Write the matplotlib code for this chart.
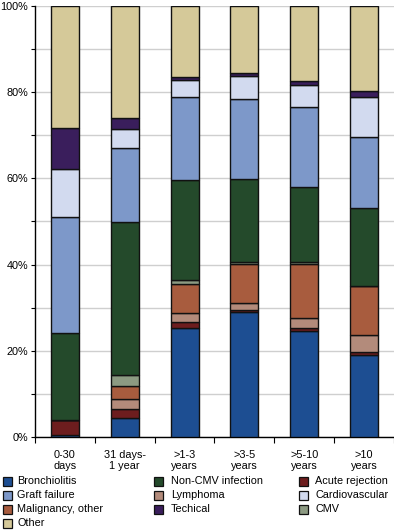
import matplotlib
matplotlib.use("Agg")
import matplotlib.pyplot as plt
import numpy as np
from matplotlib.patches import Rectangle

plt.rcParams['font.family'] = ['Liberation Sans', 'DejaVu Sans']

categories = ["0-30\ndays", "31 days-\n1 year", ">1-3\nyears", ">3-5\nyears", ">5-10\nyears", ">10\nyears"]

labels = ["Bronchiolitis", "Acute rejection", "Lymphoma", "Malignancy, other", "CMV",
          "Non-CMV infection", "Graft failure", "Cardiovascular", "Techical", "Other"]

bronchiolitis = [0.5, 4.5, 25.3, 29.0, 24.6, 19.0]
acute_rejection = [3.4, 2.0, 1.4, 0.5, 0.7, 0.7]
lymphoma = [0.0, 2.4, 2.0, 1.5, 2.4, 3.9]
malignancy_other = [0.0, 3.0, 6.8, 9.2, 12.5, 11.5]
cmv = [0.0, 2.5, 0.9, 0.4, 0.3, 0.0]
non_cmv_infection = [20.2, 35.4, 23.2, 19.3, 17.6, 18.1]
graft_failure = [26.9, 17.3, 19.3, 18.5, 18.4, 16.5]
cardiovascular = [11.1, 4.4, 3.9, 5.3, 5.2, 9.2]
technical = [9.6, 2.6, 0.8, 0.7, 0.9, 1.3]
other = [28.3, 25.9, 16.4, 15.6, 17.4, 19.8]

series = [bronchiolitis, acute_rejection, lymphoma, malignancy_other, cmv,
          non_cmv_infection, graft_failure, cardiovascular, technical, other]
colors = ["#1d4e92", "#6d1d1e", "#b38b7b", "#a85c3e", "#8c9a82",
          "#244a2b", "#7d98c9", "#d2daef", "#3a1e5c", "#d5c999"]

FS = 7.8
fig = plt.figure(figsize=(3.94, 5.31), dpi=100)
ax = fig.add_axes([35/394, 1-437/531, 1-35/394, (437-6)/531])

x = np.arange(len(categories))
bottom = np.zeros(len(categories))
for vals, lab, col in zip(series, labels, colors):
    v = np.array(vals)
    ax.bar(x, v, width=0.47, bottom=bottom, color=col, edgecolor="#111111",
           linewidth=1.0, label=lab, zorder=3)
    bottom += v

ax.set_xlim(-0.5, 5.5)
ax.set_ylim(0, 100)
ax.set_yticks(np.arange(0, 101, 20))
ax.set_yticklabels([f"{v}%" for v in range(0, 101, 20)], fontsize=FS)
ax.set_yticks(np.arange(0, 101, 10), minor=True)
ax.yaxis.grid(True, which="both", color="#cfcfcf", linewidth=1.0, zorder=0)
ax.tick_params(axis="y", which="both", direction="out", length=3, width=0.8, pad=2)

ax.set_xticks(x)
ax.set_xticklabels(categories, fontsize=FS, linespacing=1.15)
ax.set_xticks(np.arange(-0.5, 6.0, 1.0), minor=True)
ax.tick_params(axis="x", which="major", length=0, pad=9)
ax.tick_params(axis="x", which="minor", direction="out", length=4, width=0.8)

for s in ["top", "right"]:
    ax.spines[s].set_visible(False)
ax.spines["left"].set_linewidth(1.0)
ax.spines["bottom"].set_linewidth(1.0)

# legend, three columns filled column-wise
legend_cols = [[0, 6, 3, 9], [5, 2, 8], [1, 7, 4]]
col_x = [3, 154, 299]
text_x = [17, 171, 315]
row_y = [481.5, 495.5, 509.5, 523.5]
W, H = 394.0, 531.0
for ci, col in enumerate(legend_cols):
    for ri, idx in enumerate(col):
        yc = row_y[ri]
        fig.patches.append(Rectangle((col_x[ci]/W, 1-(yc+4.5)/H), 9/W, 9/H,
                                     transform=fig.transFigure, facecolor=colors[idx],
                                     edgecolor="#111111", linewidth=0.9))
        fig.text(text_x[ci]/W, 1-yc/H, labels[idx], fontsize=FS, va="center", ha="left")

fig.savefig("out.png", dpi=100)
